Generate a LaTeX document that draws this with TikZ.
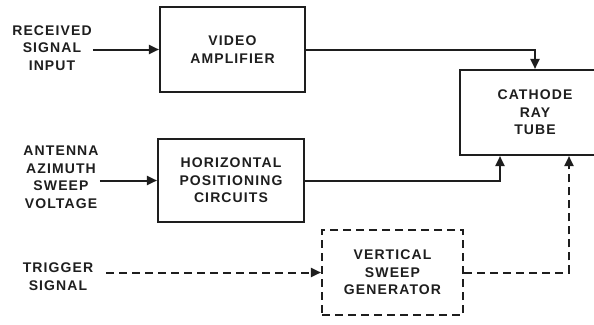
\documentclass[tikz,border=0pt]{standalone}
\usepackage{fontspec}
\setmainfont{Liberation Sans}[LetterSpace=8]
\usetikzlibrary{arrows.meta}
\definecolor{Ink}{HTML}{1E1E1E}

\begin{document}
\begin{tikzpicture}[
  x = 1pt, y = -1pt,
  lbl/.style    = {text=Ink, font=\bfseries\fontsize{14}{17.5}\selectfont,
                   align=center, inner sep=1pt},
  block/.style  = {lbl, draw=Ink, line width=2.1pt, minimum width=#1,
                   minimum height=85pt},
  block/.default = 145pt,
  dblock/.style = {block=#1, dash pattern=on 8pt off 5pt},
  arr/.style    = {-{Triangle[length=10pt, width=9pt]}, Ink, line width=2pt},
  darr/.style   = {arr, dash pattern=on 8pt off 5pt},
]
\useasboundingbox (0,0) rectangle (594,324);
\node[block]         (vid) at (232.5,49.5)  {VIDEO\\AMPLIFIER};
\node[block=150pt]   (crt) at (535,112.5)   {CATHODE\\RAY\\TUBE};
\node[block=146pt, minimum height=83pt]
                     (hpc) at (231,180.5)   {HORIZONTAL\\POSITIONING\\CIRCUITS};
\node[dblock=141pt]  (vsg) at (392.5,272.5) {VERTICAL\\SWEEP\\GENERATOR};
\node[lbl]           (rsi) at (52,48)       {RECEIVED\\SIGNAL\\INPUT};
\node[lbl]           (aas) at (61,177)      {ANTENNA\\AZIMUTH\\SWEEP\\VOLTAGE};
\node[lbl]           (trg) at (58,276.5)    {TRIGGER\\SIGNAL};
\foreach \a/\b in {rsi/vid, aas/hpc}
  \draw[arr] (\a.east |- \b.west) -- (\b.west);
\draw[darr] ([xshift=12pt]trg.east |- vsg.west) -- (vsg.west);
\draw[arr]  (vid.east) -| (crt.north);
\draw[arr]  (hpc.east) -| ([xshift=-35pt]crt.south);
\draw[darr] (vsg.east) -| ([xshift=34pt]crt.south);
\end{tikzpicture}
\end{document}
